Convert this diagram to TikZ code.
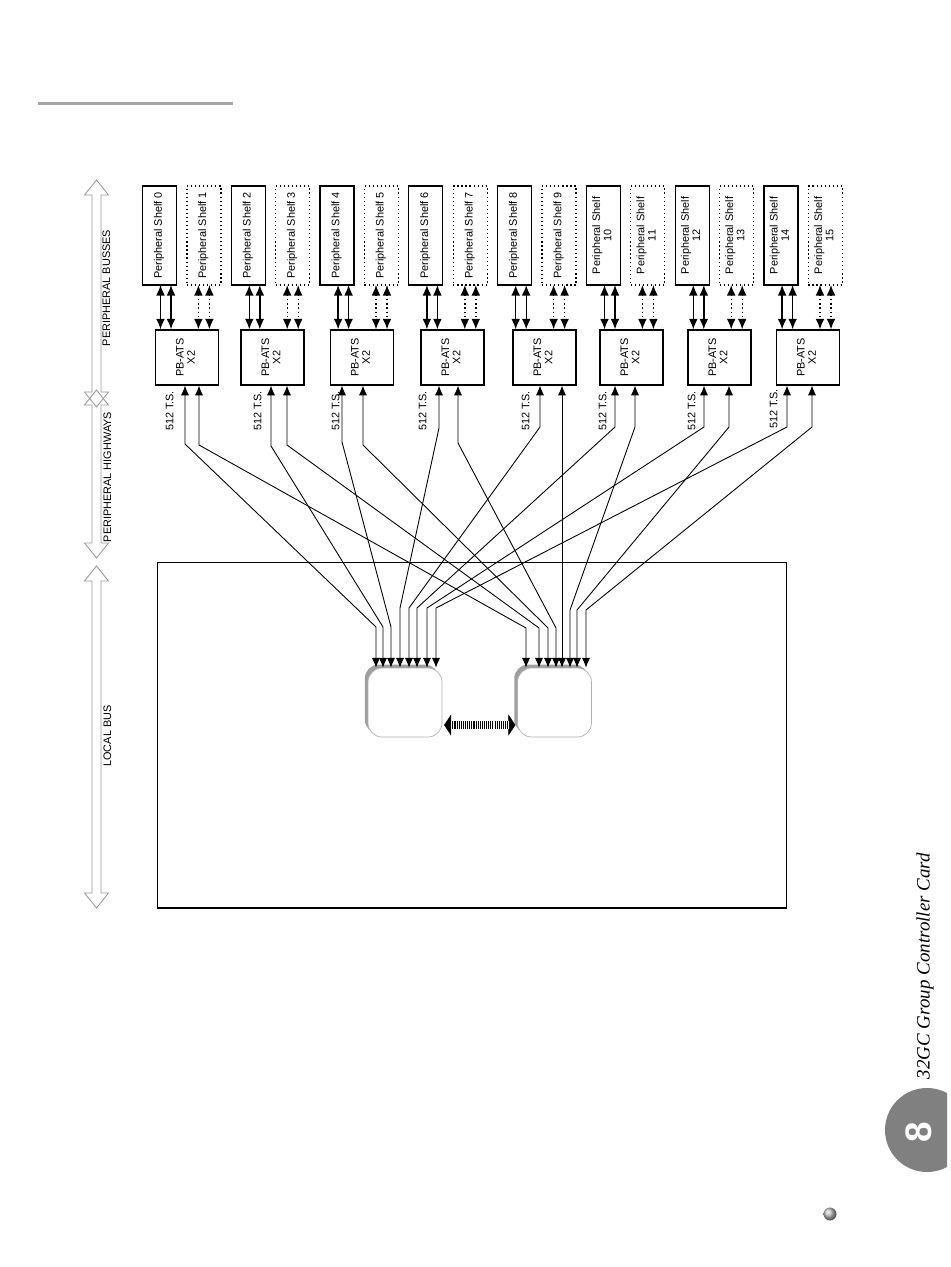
\documentclass[tikz,border=0pt]{standalone}
\usepackage{graphicx}
\usepackage{fontspec}
\setmainfont{Liberation Sans}
\newfontfamily\cardfont{Liberation Serif}
\usetikzlibrary{arrows.meta,positioning,shadows}

\newcommand{\vlabel}[1]{\rotatebox{90}{\begin{tabular}{@{}c@{}}#1\end{tabular}}}

\begin{document}
\begin{tikzpicture}[
    x=0.02cm, y=-0.02cm,
    font=\fontsize{6.2}{6.4}\selectfont,
    shelfblock/.style={
        rectangle,
        draw,
        line width=0.7pt,
        minimum width=0.68cm,
        minimum height=1.98cm,
        inner sep=0pt,
        outer sep=0pt
    },
    spareblock/.style={
        shelfblock,
        dash pattern=on 0.7pt off 1.6pt
    },
    atsblock/.style={
        rectangle,
        draw,
        line width=0.7pt,
        minimum width=1.26cm,
        minimum height=1.1cm,
        inner sep=0pt
    },
    cpublock/.style={
        rectangle,
        draw=gray!60,
        line width=0.4pt,
        fill=white,
        rounded corners=8pt,
        minimum width=1.48cm,
        minimum height=1.38cm,
        general shadow={fill=gray!75, shadow xshift=-0.065cm, shadow yshift=0.07cm}
    },
    bus line/.style={draw, line width=0.8pt, {Latex[length=6pt,width=5pt]}-{Latex[length=6pt,width=5pt]}},
    spare line/.style={bus line, dash pattern=on 0.8pt off 1.6pt},
    hwy line/.style={draw, line width=0.5pt, {Latex[length=5.5pt,width=4.6pt]}-{Latex[length=5.5pt,width=4.6pt]}},
    link tips/.style={line width=0.3pt, {Triangle[length=4pt,width=12pt]}-{Triangle[length=4pt,width=12pt]}, shorten <=1pt, shorten >=1pt},
    link shaft/.style={line width=4.3pt, dash pattern=on 0.6pt off 0.6pt, shorten <=4.5pt, shorten >=4.5pt},
    link edge/.style={line width=0.35pt, double distance=4.3pt, shorten <=4.5pt, shorten >=4.5pt},
    side arrow/.style={draw=gray!80, line width=0.5pt},
    side label/.style={inner sep=0pt}
]
\useasboundingbox (0,0) rectangle (950,1267);

% Page rule
\draw [gray!70, line width=1.2pt] (38,103.5) -- (233,103.5);

% Side bus arrows
\draw [side arrow] (96.5,180) -- (108.5,195) -- (101,195) -- (101,392) -- (108.5,392) -- (96.5,407)
    -- (84.5,392) -- (92,392) -- (92,195) -- (84.5,195) -- cycle;
\draw [side arrow] (96.5,390) -- (108.5,405) -- (101,405) -- (101,543) -- (108.5,543) -- (96.5,558)
    -- (84.5,543) -- (92,543) -- (92,405) -- (84.5,405) -- cycle;
\draw [side arrow] (96.5,566) -- (108.5,581) -- (101,581) -- (101,893) -- (108.5,893) -- (96.5,908)
    -- (84.5,893) -- (92,893) -- (92,581) -- (84.5,581) -- cycle;
\node [side label] (busses) at (108,288) {\vlabel{PERIPHERAL BUSSES}};
\node [side label] (highways) at (109,477) {\vlabel{PERIPHERAL HIGHWAYS}};
\node [side label] (localbus) at (109,736) {\vlabel{LOCAL BUS}};

% Peripheral shelves
\node [shelfblock] (shelf0) at (159.5,235.5) {\vlabel{Peripheral Shelf 0}};
\node [spareblock, right=0.208cm of shelf0] (shelf1) {\vlabel{Peripheral Shelf 1}};
\node [shelfblock, right=0.208cm of shelf1] (shelf2) {\vlabel{Peripheral Shelf 2}};
\node [spareblock, right=0.208cm of shelf2] (shelf3) {\vlabel{Peripheral Shelf 3}};
\node [shelfblock, right=0.208cm of shelf3] (shelf4) {\vlabel{Peripheral Shelf 4}};
\node [spareblock, right=0.208cm of shelf4] (shelf5) {\vlabel{Peripheral Shelf 5}};
\node [shelfblock, right=0.208cm of shelf5] (shelf6) {\vlabel{Peripheral Shelf 6}};
\node [spareblock, right=0.208cm of shelf6] (shelf7) {\vlabel{Peripheral Shelf 7}};
\node [shelfblock, right=0.208cm of shelf7] (shelf8) {\vlabel{Peripheral Shelf 8}};
\node [spareblock, right=0.208cm of shelf8] (shelf9) {\vlabel{Peripheral Shelf 9}};
\node [shelfblock, right=0.208cm of shelf9] (shelf10) {\vlabel{Peripheral Shelf\\10}};
\node [spareblock, right=0.208cm of shelf10] (shelf11) {\vlabel{Peripheral Shelf\\11}};
\node [shelfblock, right=0.208cm of shelf11] (shelf12) {\vlabel{Peripheral Shelf\\12}};
\node [spareblock, right=0.208cm of shelf12] (shelf13) {\vlabel{Peripheral Shelf\\13}};
\node [shelfblock, right=0.208cm of shelf13] (shelf14) {\vlabel{Peripheral Shelf\\14}};
\node [spareblock, right=0.208cm of shelf14] (shelf15) {\vlabel{Peripheral Shelf\\15}};

% PB-ATS blocks
\node [atsblock] (pb0) at (187,357.5) {\vlabel{PB-ATS\\X2}};
\node [atsblock] (pb1) at (272.5,357.5) {\vlabel{PB-ATS\\X2}};
\node [atsblock] (pb2) at (362,357.5) {\vlabel{PB-ATS\\X2}};
\node [atsblock] (pb3) at (452.5,357.5) {\vlabel{PB-ATS\\X2}};
\node [atsblock] (pb4) at (544.5,357.5) {\vlabel{PB-ATS\\X2}};
\node [atsblock] (pb5) at (631.5,357.5) {\vlabel{PB-ATS\\X2}};
\node [atsblock] (pb6) at (719.5,357.5) {\vlabel{PB-ATS\\X2}};
\node [atsblock] (pb7) at (808,357.5) {\vlabel{PB-ATS\\X2}};

% Time slot labels
\node [side label] (ts0) at (171,411) {\vlabel{512 T.S.}};
\node [side label] (ts1) at (259,411) {\vlabel{512 T.S.}};
\node [side label] (ts2) at (337,411) {\vlabel{512 T.S.}};
\node [side label] (ts3) at (424,411) {\vlabel{512 T.S.}};
\node [side label] (ts4) at (527,411) {\vlabel{512 T.S.}};
\node [side label] (ts5) at (604,411) {\vlabel{512 T.S.}};
\node [side label] (ts6) at (693,411) {\vlabel{512 T.S.}};
\node [side label] (ts7) at (775,409) {\vlabel{512 T.S.}};

% Controller card outline and processors
\node [draw, line width=0.6pt, minimum width=12.6cm, minimum height=6.92cm, inner sep=0pt] (board) at (472,735) {};
\node [cpublock] (cpuA) at (405,702.5) {};
\node [cpublock] (cpuB) at (554.5,702.5) {};

% Peripheral busses
\draw [bus line] (160.5,0 |- shelf0.south) -- (160.5,0 |- pb0.north);
\draw [bus line] (171,0 |- shelf0.south) -- (171,0 |- pb0.north);
\draw [spare line] (198.4,0 |- shelf1.south) -- (198.4,0 |- pb0.north);
\draw [spare line] (209.4,0 |- shelf1.south) -- (209.4,0 |- pb0.north);
\draw [bus line] (249.3,0 |- shelf2.south) -- (249.3,0 |- pb1.north);
\draw [bus line] (259.8,0 |- shelf2.south) -- (259.8,0 |- pb1.north);
\draw [spare line] (287.2,0 |- shelf3.south) -- (287.2,0 |- pb1.north);
\draw [spare line] (298.2,0 |- shelf3.south) -- (298.2,0 |- pb1.north);
\draw [bus line] (338.1,0 |- shelf4.south) -- (338.1,0 |- pb2.north);
\draw [bus line] (348.6,0 |- shelf4.south) -- (348.6,0 |- pb2.north);
\draw [spare line] (376,0 |- shelf5.south) -- (376,0 |- pb2.north);
\draw [spare line] (387,0 |- shelf5.south) -- (387,0 |- pb2.north);
\draw [bus line] (426.9,0 |- shelf6.south) -- (426.9,0 |- pb3.north);
\draw [bus line] (437.4,0 |- shelf6.south) -- (437.4,0 |- pb3.north);
\draw [spare line] (464.8,0 |- shelf7.south) -- (464.8,0 |- pb3.north);
\draw [spare line] (475.8,0 |- shelf7.south) -- (475.8,0 |- pb3.north);
\draw [bus line] (515.7,0 |- shelf8.south) -- (515.7,0 |- pb4.north);
\draw [bus line] (526.2,0 |- shelf8.south) -- (526.2,0 |- pb4.north);
\draw [spare line] (553.6,0 |- shelf9.south) -- (553.6,0 |- pb4.north);
\draw [spare line] (564.6,0 |- shelf9.south) -- (564.6,0 |- pb4.north);
\draw [bus line] (604.5,0 |- shelf10.south) -- (604.5,0 |- pb5.north);
\draw [bus line] (615,0 |- shelf10.south) -- (615,0 |- pb5.north);
\draw [spare line] (642.4,0 |- shelf11.south) -- (642.4,0 |- pb5.north);
\draw [spare line] (653.4,0 |- shelf11.south) -- (653.4,0 |- pb5.north);
\draw [bus line] (693.3,0 |- shelf12.south) -- (693.3,0 |- pb6.north);
\draw [bus line] (703.8,0 |- shelf12.south) -- (703.8,0 |- pb6.north);
\draw [spare line] (731.2,0 |- shelf13.south) -- (731.2,0 |- pb6.north);
\draw [spare line] (742.2,0 |- shelf13.south) -- (742.2,0 |- pb6.north);
\draw [bus line] (782.1,0 |- shelf14.south) -- (782.1,0 |- pb7.north);
\draw [bus line] (792.6,0 |- shelf14.south) -- (792.6,0 |- pb7.north);
\draw [spare line] (820,0 |- shelf15.south) -- (820,0 |- pb7.north);
\draw [spare line] (831,0 |- shelf15.south) -- (831,0 |- pb7.north);

% Peripheral highways
\draw [hwy line] (185,0 |- pb0.south) -- (185,444) -- (376,627) -- (376,0 |- cpuA.north);
\draw [hwy line] (199,0 |- pb0.south) -- (199,445) -- (526,628) -- (526,0 |- cpuB.north);
\draw [hwy line] (271,0 |- pb1.south) -- (271,446) -- (383,627) -- (383,0 |- cpuA.north);
\draw [hwy line] (287,0 |- pb1.south) -- (287,445) -- (539,628) -- (539,0 |- cpuB.north);
\draw [hwy line] (342,0 |- pb2.south) -- (342,442) -- (391,627) -- (391,0 |- cpuA.north);
\draw [hwy line] (363,0 |- pb2.south) -- (363,445) -- (548,628) -- (548,0 |- cpuB.north);
\draw [hwy line] (439,0 |- pb3.south) -- (439,428) -- (400,608) -- (400,0 |- cpuA.north);
\draw [hwy line] (458,0 |- pb3.south) -- (458,443) -- (556,628) -- (556,0 |- cpuB.north);
\draw [hwy line] (540,0 |- pb4.south) -- (540,427) -- (409,608) -- (409,0 |- cpuA.north);
\draw [hwy line] (562,0 |- pb4.south) -- (562,0 |- cpuB.north);
\draw [hwy line] (615,0 |- pb5.south) -- (615,427) -- (417,608) -- (417,0 |- cpuA.north);
\draw [hwy line] (635,0 |- pb5.south) -- (635,427) -- (570,610) -- (570,0 |- cpuB.north);
\draw [hwy line] (704,0 |- pb6.south) -- (704,427) -- (427,608) -- (427,0 |- cpuA.north);
\draw [hwy line] (729,0 |- pb6.south) -- (729,427) -- (577,610) -- (577,0 |- cpuB.north);
\draw [hwy line] (787,0 |- pb7.south) -- (787,427) -- (436,608) -- (436,0 |- cpuA.north);
\draw [hwy line] (812,0 |- pb7.south) -- (812,427) -- (586,610) -- (586,0 |- cpuB.north);

% Local link between processors
\draw [link tips] (cpuA.east |- 0,725) -- (cpuB.west |- 0,725);
\draw [link edge] (cpuA.east |- 0,725) -- (cpuB.west |- 0,725);
\draw [link shaft] (cpuA.east |- 0,725) -- (cpuB.west |- 0,725);

% Chapter tab
\begin{scope}
    \clip (870,1070) rectangle (947,1190);
    \fill [black!50] (927,1130) circle [radius=42];
\end{scope}
\node [text=white, font=\fontsize{21}{21}\selectfont\bfseries] (tabnum) at (918.5,1132) {\rotatebox{90}{8}};
\node [font=\cardfont\itshape\fontsize{10.8}{12}\selectfont, inner sep=0pt] (cardtitle) at (925,966) {\rotatebox{90}{32GC Group Controller Card}};
\shade [ball color=gray!50] (830,1214) circle [radius=6.5];

\end{tikzpicture}
\end{document}
